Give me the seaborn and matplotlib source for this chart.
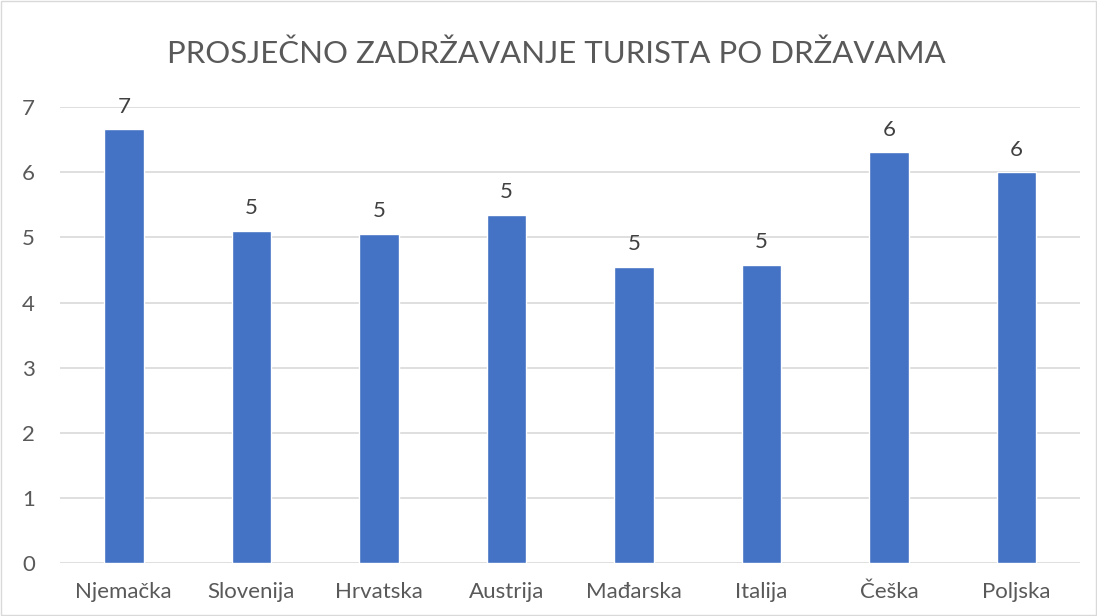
import matplotlib
matplotlib.use("Agg")
import matplotlib.pyplot as plt
import seaborn as sns
import pandas as pd
import numpy as np

countries = ["Njemačka", "Slovenija", "Hrvatska", "Austrija", "Mađarska", "Italija", "Češka", "Poljska"]
values = [6.66, 5.10, 5.06, 5.35, 4.55, 4.58, 6.31, 6.00]
title = "PROSJEČNO ZADRŽAVANJE TURISTA PO DRŽAVAMA"
yticks = [0, 1, 2, 3, 4, 5, 6, 7]

sns.set_theme(style="white")
plt.rcParams['font.family'] = ['Lato', 'DejaVu Sans']

df = pd.DataFrame({"country": countries, "value": values})

fig = plt.figure(figsize=(10.97, 6.16), dpi=100)
ax = fig.add_axes([0.0547, 0.086, 0.930, 0.740])

sns.barplot(data=df, x="country", y="value", color="#4472C4", width=0.31,
            saturation=1, ax=ax, zorder=3)

ax.set_ylim(0, 7)
ax.set_yticks(yticks)
ax.yaxis.grid(True, color="#D9D9D9", linewidth=1.2, zorder=0)
ax.set_axisbelow(True)
for s in ax.spines.values():
    s.set_visible(False)
ax.set_xlabel("")
ax.set_ylabel("")
ax.tick_params(axis="both", length=0, labelsize=16, colors="#595959")
ax.tick_params(axis="y", pad=18)
ax.tick_params(axis="x", pad=14)

for p, v in zip(ax.patches, values):
    ax.annotate(f"{round(v):d}", (p.get_x() + p.get_width() / 2, p.get_height()),
                xytext=(0, 9), textcoords="offset points", ha="center", va="bottom",
                fontsize=16, color="#404040")

fig.text(0.5075, 0.912, title, ha="center", va="center", fontsize=22.4, color="#595959")

border = plt.Rectangle((0.001, 0.001), 0.998, 0.998, transform=fig.transFigure,
                       fill=False, edgecolor="#D9D9D9", linewidth=1)
fig.patches.append(border)

fig.savefig("out.png", dpi=100, facecolor="white")
